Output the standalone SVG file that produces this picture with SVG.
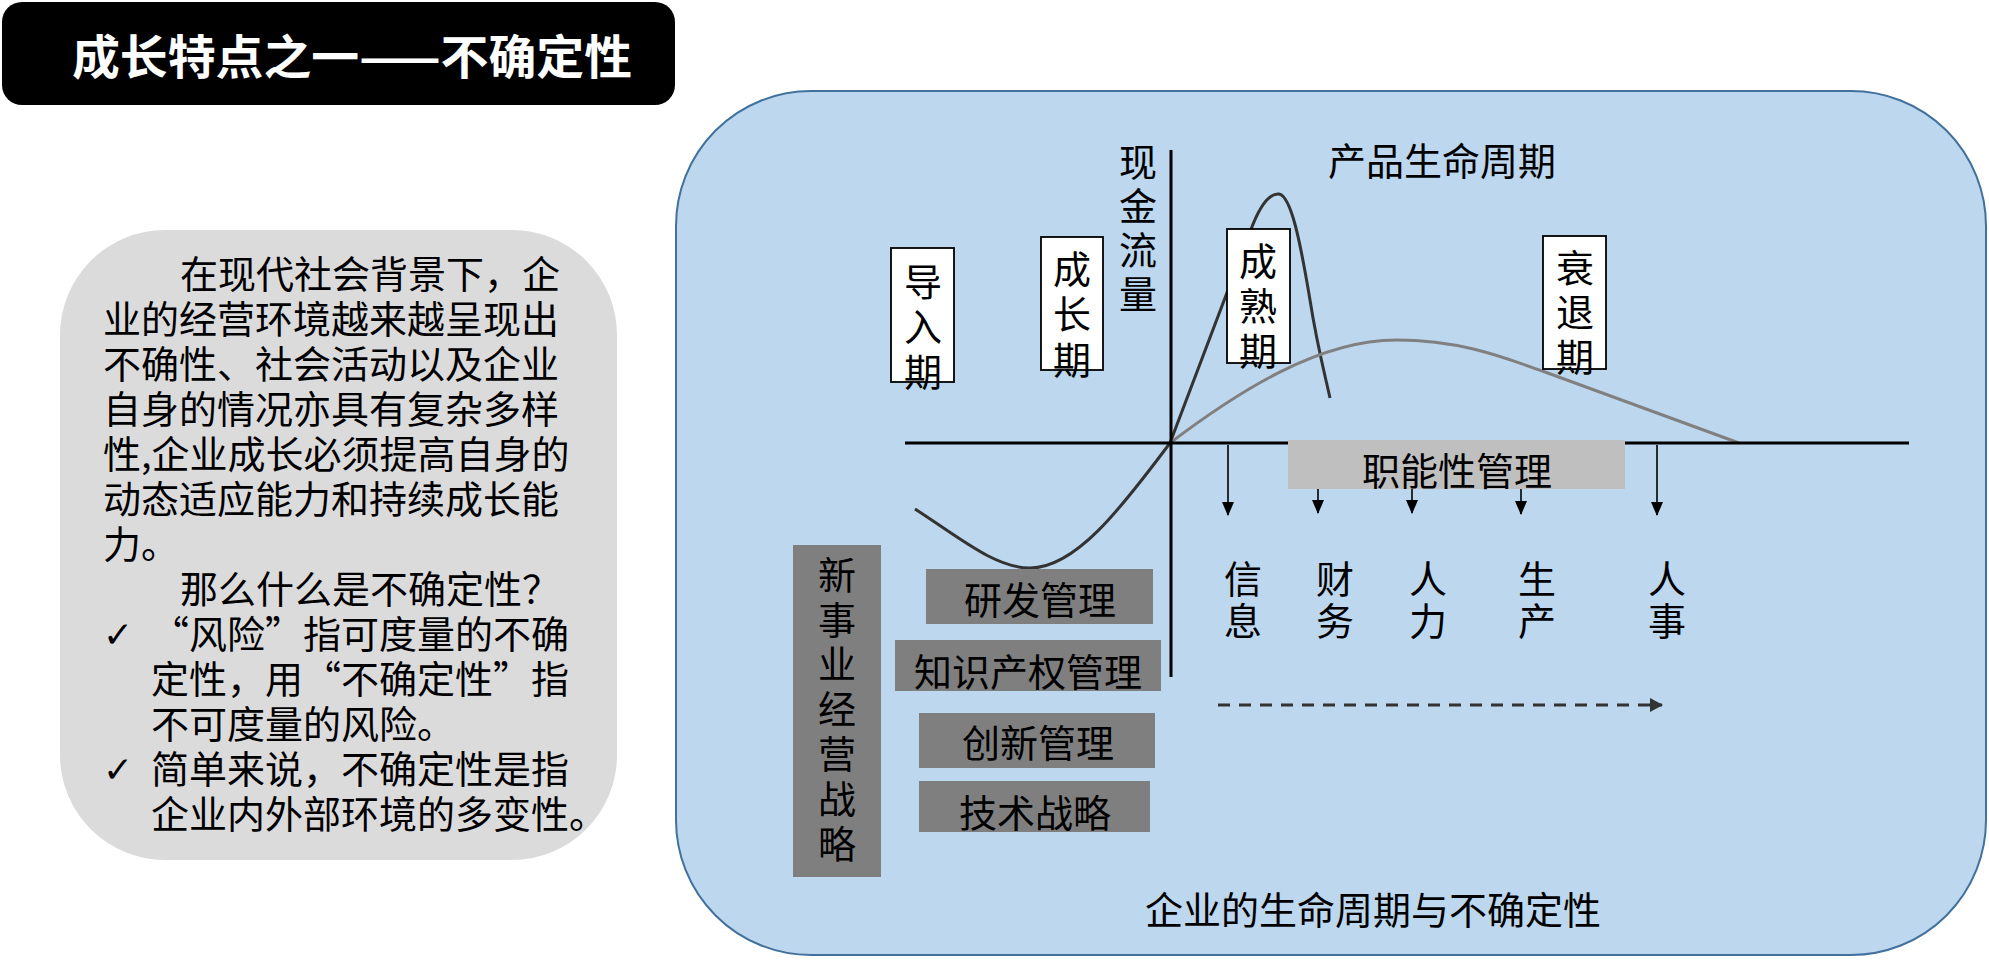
<svg xmlns="http://www.w3.org/2000/svg" width="1989" height="960" viewBox="0 0 1989 960">
<defs>
<style>
text{font-family:"Noto Sans CJK SC","Noto Sans",sans-serif;fill:#000;}
.t38{font-size:38px;}
.mid{text-anchor:middle;}
.stage{fill:#fff;stroke:#000;stroke-width:1.8;}
.dbox{fill:#7f7f7f;}
.axis{stroke:#000;stroke-width:3;fill:none;}
.arr{stroke:#000;stroke-width:1.6;fill:none;marker-end:url(#ah);}
.chk{font-family:"DejaVu Sans",sans-serif;font-size:36px;}
</style>
<marker id="ah" markerUnits="userSpaceOnUse" markerWidth="14" markerHeight="12" refX="13" refY="6" orient="auto" viewBox="0 0 14 12">
<path d="M0,0 L14,6 L0,12 Z" fill="#000"/>
</marker>
<marker id="ah2" markerUnits="userSpaceOnUse" markerWidth="14" markerHeight="14" refX="12" refY="7" orient="auto" viewBox="0 0 14 14">
<path d="M0,0 L13,7 L0,14 Z" fill="#333"/>
</marker>
</defs>

<g id="title">
<rect x="2" y="2" width="673" height="103" rx="20" fill="#000"/>
<text x="72" y="74" textLength="560" lengthAdjust="spacingAndGlyphs" style="font-size:47px;font-weight:bold;fill:#fff">成长特点之一——不确定性</text>
</g>

<g id="intro">
<rect x="60" y="230" width="557" height="630" rx="105" fill="#dcdbdc"/>
<g class="t38">
<text x="180" y="288">在现代社会背景下，企</text>
<text x="103" y="333">业的经营环境越来越呈现出</text>
<text x="103" y="378">不确性、社会活动以及企业</text>
<text x="103" y="423">自身的情况亦具有复杂多样</text>
<text x="103" y="468">性,企业成长必须提高自身的</text>
<text x="103" y="513">动态适应能力和持续成长能</text>
<text x="103" y="558">力。</text>
<text x="180" y="603">那么什么是不确定性？</text>
<text x="151" y="648">“风险”指可度量的不确</text>
<text x="151" y="693">定性，用“不确定性”指</text>
<text x="151" y="738">不可度量的风险。</text>
<text x="151" y="783">简单来说，不确定性是指</text>
<text x="151" y="828">企业内外部环境的多变性。</text>
</g>
<text class="chk" x="103" y="647">✓</text>
<text class="chk" x="103" y="782">✓</text>
</g>

<g id="panel">
<rect x="676" y="91" width="1310" height="864" rx="135" fill="#bdd7ee" stroke="#41719c" stroke-width="2"/>
</g>

<g id="curves">
<path d="M915,509 C960,538 995,568 1030,568 C1075,568 1120,510 1170,443 L1250,232 C1258,210 1268,193 1279,194 C1291,196 1300,240 1310,300 C1317,345 1325,375 1330,398" fill="none" stroke="#333" stroke-width="3"/>
<path d="M1170,443 C1240,390 1320,340 1396,340 C1465,340 1510,360 1545,372 L1739,443" fill="none" stroke="#808080" stroke-width="3"/>
</g>

<g id="axes">
<line class="axis" x1="905" y1="443" x2="1909" y2="443"/>
<line class="axis" x1="1171" y1="150" x2="1171" y2="677"/>
</g>

<g id="y-label">
<text class="t38 mid"><tspan x="1138" y="176">现</tspan><tspan x="1138" y="220">金</tspan><tspan x="1138" y="264">流</tspan><tspan x="1138" y="308">量</tspan></text>
</g>

<g id="plc-label">
<text class="t38 mid" x="1442" y="175">产品生命周期</text>
</g>

<g id="stage-intro">
<rect class="stage" x="891" y="248" width="63" height="134"/>
<text class="t38 mid"><tspan x="923" y="296">导</tspan><tspan x="923" y="341">入</tspan><tspan x="923" y="386">期</tspan></text>
</g>
<g id="stage-growth">
<rect class="stage" x="1041" y="237" width="62" height="133"/>
<text class="t38 mid"><tspan x="1072" y="283">成</tspan><tspan x="1072" y="328">长</tspan><tspan x="1072" y="374">期</tspan></text>
</g>
<g id="stage-mature">
<rect class="stage" x="1227" y="229" width="63" height="134"/>
<text class="t38 mid"><tspan x="1258" y="275">成</tspan><tspan x="1258" y="320">熟</tspan><tspan x="1258" y="365">期</tspan></text>
</g>
<g id="stage-decline">
<rect class="stage" x="1543" y="236" width="63" height="133"/>
<text class="t38 mid"><tspan x="1575" y="282">衰</tspan><tspan x="1575" y="326">退</tspan><tspan x="1575" y="371">期</tspan></text>
</g>

<g id="functional">
<rect x="1288" y="440" width="337" height="49" fill="#bfbfbf"/>
<text class="t38 mid" x="1457" y="485">职能性管理</text>
</g>

<g id="connectors">
<line class="arr" x1="1228" y1="445" x2="1228" y2="515"/>
<line class="arr" x1="1318" y1="489" x2="1318" y2="513"/>
<line class="arr" x1="1412" y1="489" x2="1412" y2="513"/>
<line class="arr" x1="1521" y1="489" x2="1521" y2="514"/>
<line class="arr" x1="1657" y1="445" x2="1657" y2="515"/>
<line x1="1218" y1="705" x2="1662" y2="705" stroke="#333" stroke-width="3" stroke-dasharray="12 9" marker-end="url(#ah2)"/>
</g>

<g id="func-labels">
<text class="t38 mid"><tspan x="1243" y="593">信</tspan><tspan x="1243" y="635">息</tspan></text>
<text class="t38 mid"><tspan x="1335" y="593">财</tspan><tspan x="1335" y="635">务</tspan></text>
<text class="t38 mid"><tspan x="1428" y="593">人</tspan><tspan x="1428" y="635">力</tspan></text>
<text class="t38 mid"><tspan x="1537" y="593">生</tspan><tspan x="1537" y="635">产</tspan></text>
<text class="t38 mid"><tspan x="1667" y="593">人</tspan><tspan x="1667" y="635">事</tspan></text>
</g>

<g id="new-biz">
<rect class="dbox" x="793" y="545" width="88" height="332"/>
<text class="t38 mid"><tspan x="837" y="589">新</tspan><tspan x="837" y="634">事</tspan><tspan x="837" y="678">业</tspan><tspan x="837" y="723">经</tspan><tspan x="837" y="768">营</tspan><tspan x="837" y="813">战</tspan><tspan x="837" y="858">略</tspan></text>
</g>
<g id="rd">
<rect class="dbox" x="926" y="569" width="227" height="55"/>
<text class="t38 mid" x="1040" y="614">研发管理</text>
</g>
<g id="ip">
<rect class="dbox" x="895" y="640" width="266" height="51"/>
<text class="t38 mid" x="1028" y="686">知识产权管理</text>
</g>
<g id="innov">
<rect class="dbox" x="919" y="713" width="236" height="55"/>
<text class="t38 mid" x="1038" y="757">创新管理</text>
</g>
<g id="tech">
<rect class="dbox" x="919" y="781" width="231" height="51"/>
<text class="t38 mid" x="1035" y="827">技术战略</text>
</g>

<g id="caption">
<text class="t38 mid" x="1373" y="924">企业的生命周期与不确定性</text>
</g>
</svg>
